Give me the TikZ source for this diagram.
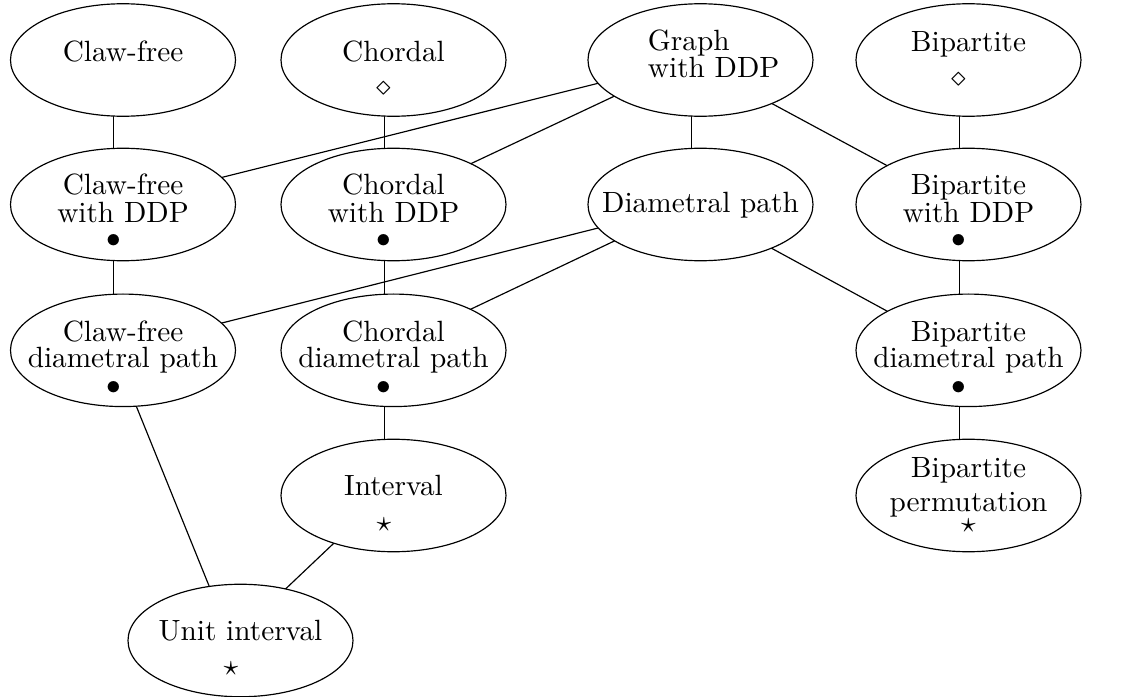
\documentclass[tikz,border=0pt]{standalone}
\usetikzlibrary{shapes.geometric}
\pgfdeclarelayer{background}
\pgfsetlayers{background,main}
% symbol sitting a little left of the middle
\newcommand{\lsym}[1]{\hbox to 0pt{\hss#1\kern6.6pt\hss}}

\begin{document}
\begin{tikzpicture}[
    cls/.style = {ellipse, draw, fill=white, minimum width=2.7cm,
                  minimum height=1.35cm, inner sep=-1cm, align=center,
                  font=\fontsize{10}{9.5}\selectfont}]
  \useasboundingbox (0,0) rectangle (13.512,-8.364);

  \node[cls, text height=24.1pt] (cf) at (1.476,-0.72) {Claw-free\\[2.2pt]\lsym{\phantom{$\diamond$}}};
  \node[cls, text height=24.1pt] (ch) at (4.722,-0.72) {Chordal\\[2.2pt]\lsym{$\diamond$}};
  \node[cls, align=left, text height=12.3pt] (g) at (8.406,-0.72) {\kern9pt Graph\\\kern9pt with DDP};
  \node[cls, text height=17.9pt] (bp) at (11.622,-0.72) {Bipartite\\[2.2pt]\lsym{$\diamond$}};

  \node[cls, text height=29.7pt] (cfw) at (1.476,-2.454)  {Claw-free\\with DDP\\[-0.9pt]\lsym{$\bullet$}};
  \node[cls, text height=29.7pt] (chw) at (4.722,-2.454)  {Chordal\\with DDP\\[-0.9pt]\lsym{$\bullet$}};
  \node[cls, text height=7.7pt]  (dp)  at (8.406,-2.454)  {Diametral path};
  \node[cls, text height=29.7pt] (bw)  at (11.622,-2.454) {Bipartite\\with DDP\\[-0.9pt]\lsym{$\bullet$}};

  \node[cls, text height=30.3pt] (cfd) at (1.476,-4.204)  {Claw-free\\[-0.5pt]diametral path\\[-0.2pt]\lsym{$\bullet$}};
  \node[cls, text height=30.3pt] (chd) at (4.722,-4.204)  {Chordal\\[-0.5pt]diametral path\\[-0.2pt]\lsym{$\bullet$}};
  \node[cls, text height=30.3pt] (bd)  at (11.622,-4.204) {Bipartite\\[-0.5pt]diametral path\\[-0.2pt]\lsym{$\bullet$}};

  \node[cls, text height=24.3pt] (iv)    at (4.722,-5.946)  {Interval\\[2.8pt]\lsym{$\star$}};
  \node[cls, text height=25pt]   (bperm) at (11.622,-5.946) {Bipartite\\[2.4pt]permutation\\[-2.6pt]$\star$};

  \node[cls, text height=23.7pt] (ui) at (2.886,-7.686) {Unit interval\\[2.2pt]\lsym{$\star$}};

  % links, kept under the ellipses
  \begin{pgfonlayer}{background}
    \draw ([xshift=-0.112cm]cf.center)  -- ([xshift=-0.112cm]cfw.center);
    \draw ([xshift=-0.112cm]ch.center)  -- ([xshift=-0.112cm]chw.center);
    \draw ([xshift=-0.112cm]bp.center)  -- ([xshift=-0.112cm]bw.center);
    \draw ([xshift=-0.112cm]g.center)   -- ([xshift=-0.112cm]cfw.center);
    \draw ([xshift=-0.112cm]g.center)   -- ([xshift=-0.112cm]chw.center);
    \draw ([xshift=-0.112cm]g.center)   -- ([xshift=-0.112cm]dp.center);
    \draw ([xshift=-0.112cm]g.center)   -- ([xshift=-0.112cm]bw.center);
    \draw ([xshift=-0.112cm]cfw.center) -- ([xshift=-0.112cm]cfd.center);
    \draw ([xshift=-0.112cm]chw.center) -- ([xshift=-0.112cm]chd.center);
    \draw ([xshift=-0.112cm]bw.center)  -- ([xshift=-0.112cm]bd.center);
    \draw ([xshift=-0.112cm]dp.center)  -- ([xshift=-0.112cm]cfd.center);
    \draw ([xshift=-0.112cm]dp.center)  -- ([xshift=-0.112cm]chd.center);
    \draw ([xshift=-0.112cm]dp.center)  -- ([xshift=-0.112cm]bd.center);
    \draw ([xshift=-0.112cm]bd.center)  -- ([xshift=-0.112cm]bperm.center);
    \draw ([xshift=-0.112cm]chd.center) -- ([xshift=-0.112cm]iv.center);
    \draw ([xshift=-0.112cm]iv.center)  -- ([xshift=-0.112cm]ui.center);
    \draw ([xshift=-0.112cm]cfd.center) -- ([xshift=-0.112cm]ui.center);
  \end{pgfonlayer}
\end{tikzpicture}
\end{document}
